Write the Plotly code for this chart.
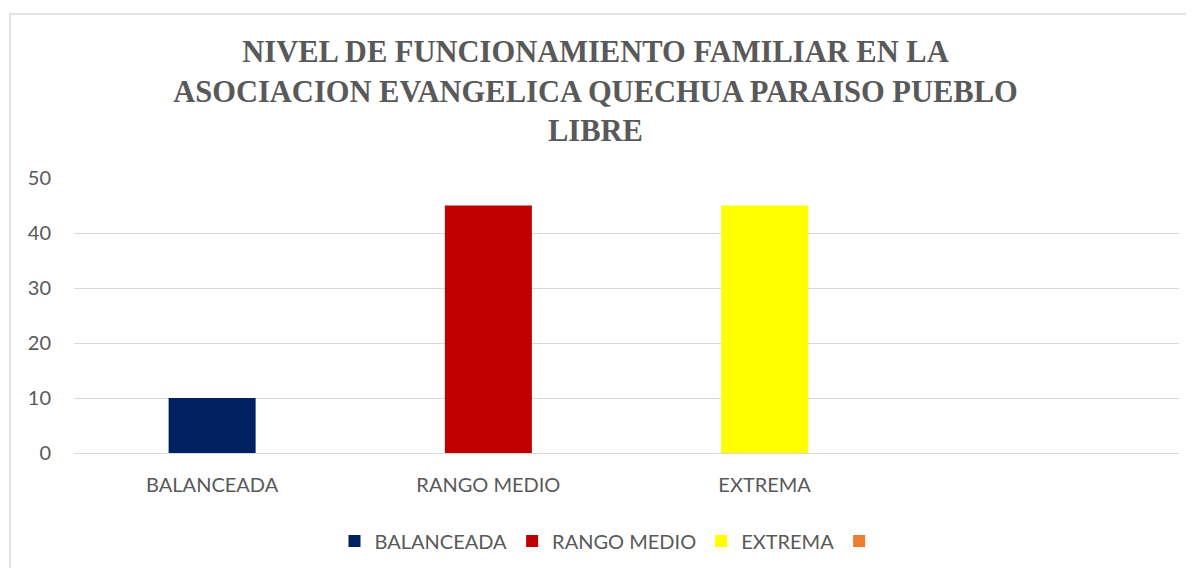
import plotly.graph_objects as go

categories = ["BALANCEADA", "RANGO MEDIO", "EXTREMA", " "]
values = [10, 45, 45, None]
series_names = ["BALANCEADA", "RANGO MEDIO", "EXTREMA", " "]
colors = ["#002060", "#C00000", "#FFFF00", "#ED7D31"]
y_ticks = [0, 10, 20, 30, 40, 50]
title_text = ("<b>NIVEL DE FUNCIONAMIENTO FAMILIAR EN LA<br>"
              "ASOCIACION EVANGELICA QUECHUA PARAISO PUEBLO<br>LIBRE</b>")

# page body has an 8px margin; figure coordinates are screen minus 8
OFF = 8
W, H = 1194 - OFF, 568 - OFF
L = 74 - OFF
T = 178 - OFF
R = W - (1179 - OFF)
B = H - (453 - OFF)
pw, ph = W - L - R, H - T - B
bottom = H - B

fig = go.Figure()
for cat, val, name, col in zip(categories, values, series_names, colors):
    fig.add_trace(go.Bar(
        x=[cat], y=[val], name=name, marker=dict(color=col, line=dict(width=0)),
        width=0.315, showlegend=True,
    ))

tickfont = dict(family="Lato", size=20, color="#595959")
fig.update_layout(
    width=W, height=H,
    margin=dict(l=L, r=R, t=T, b=B, autoexpand=False),
    paper_bgcolor="white", plot_bgcolor="white",
    barmode="overlay",
    title=dict(text=title_text, x=(595.5 - OFF) / W, xanchor="center",
               y=1 - 54 / H, yanchor="middle", yref="container",
               font=dict(family="Liberation Serif", size=30.5, color="#595959")),
    xaxis=dict(type="category", categoryorder="array", categoryarray=categories,
               range=[-0.5, 3.5], showgrid=False, showline=False, zeroline=False,
               ticks="outside", ticklen=14, tickcolor="rgba(0,0,0,0)", tickfont=tickfont),
    yaxis=dict(range=[0, 50], tickvals=y_ticks, showgrid=True, gridcolor="#D9D9D9",
               gridwidth=1, zeroline=True, zerolinecolor="#D9D9D9", zerolinewidth=1,
               showline=False, ticks="outside", ticklen=18, tickcolor="rgba(0,0,0,0)",
               tickfont=tickfont),
    legend=dict(orientation="h", x=(612 - OFF - L) / pw, xanchor="center",
                y=(bottom - (541 - OFF)) / ph, yanchor="middle", font=tickfont,
                itemwidth=30, traceorder="normal"),
    shapes=[dict(type="rect", xref="paper", yref="paper",
                 x0=(10 - OFF - L) / pw, x1=(1215 - OFF - L) / pw,
                 y0=(bottom - (600 - OFF)) / ph, y1=(bottom - (14 - OFF)) / ph,
                 line=dict(color="#D9D9D9", width=1.5), layer="below")],
)

fig.write_html("out.html")
